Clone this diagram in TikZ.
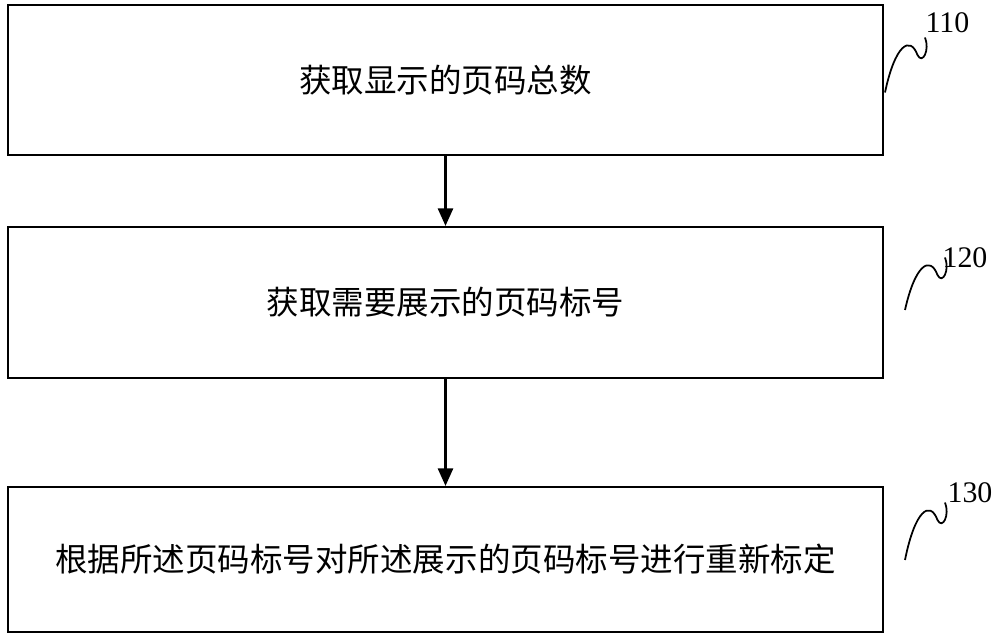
\documentclass[tikz,border=0pt]{standalone}
\usepackage{fontspec}
\newfontfamily\cjk{Noto Sans CJK SC}
\setmainfont{Liberation Serif}
\usetikzlibrary{positioning,arrows.meta}
\tikzset{
  stepbox/.style={draw, line width=1.2pt, minimum width=17.5cm, font=\cjk\fontsize{18.5}{22}\selectfont},
  flow/.style={-{Triangle[length=0.35cm,width=0.3cm]}, line width=1.4pt},
  tag/.style={font=\fontsize{17}{19}\selectfont},
  wave/.style={line width=1pt}
}
\begin{document}
\begin{tikzpicture}
\useasboundingbox (0,0) rectangle (20,-12.74);
\node [stepbox, minimum height=3.0cm] (s1) at (8.91,-1.6) {获取显示的页码总数};
\node [stepbox, minimum height=3.02cm] (s2) at (8.91,-6.05) {获取需要展示的页码标号};
\node [stepbox, minimum height=2.9cm] (s3) at (8.91,-11.19) {根据所述页码标号对所述展示的页码标号进行重新标定};
\draw [flow] (s1) -- (s2);
\draw [flow] (s2) -- (s3);
% step numbers
\node [tag] (t1) at (18.95,-0.45) {110};
\node [tag] (t2) at (19.3,-5.15) {120};
\node [tag] (t3) at (19.4,-9.85) {130};
\coordinate (w1) at (17.7,-1.85);
\coordinate (w2) at (18.1,-6.2);
\coordinate (w3) at (18.1,-11.2);
\draw [wave] (w1) .. controls (17.9,-0.9) and (18.2,-0.7) .. (18.35,-1.1) .. controls (18.45,-1.3) and (18.6,-1.0) .. (18.5,-0.75);
\draw [wave] (w2) .. controls (18.3,-5.3) and (18.6,-5.1) .. (18.75,-5.5) .. controls (18.85,-5.7) and (19.0,-5.4) .. (18.9,-5.15);
\draw [wave] (w3) .. controls (18.3,-10.2) and (18.6,-10.0) .. (18.75,-10.4) .. controls (18.85,-10.6) and (19.0,-10.3) .. (18.9,-10.05);
\end{tikzpicture}
\end{document}
